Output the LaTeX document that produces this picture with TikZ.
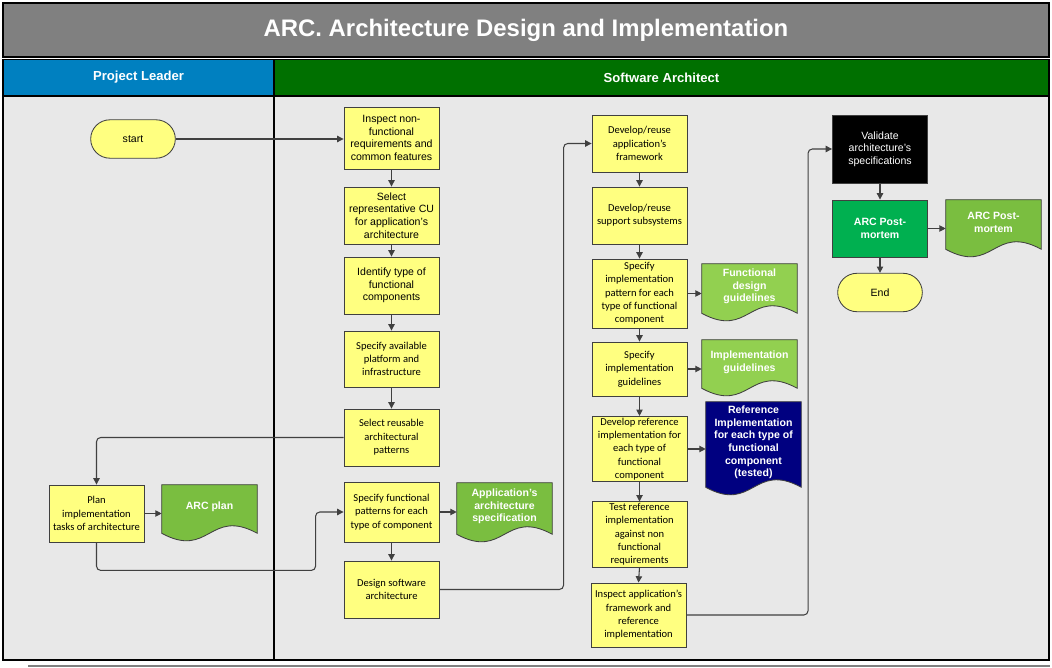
\documentclass[tikz,border=0pt]{standalone}
\usepackage{fontspec}
\setmainfont{Liberation Sans}
\newfontfamily\calibri{Carlito}
\usepackage{tikz}
\usetikzlibrary{
  positioning,
  arrows.meta,
  calc,
  shapes.misc
}
\definecolor{titlegray}{RGB}{128,128,128}
\definecolor{leaderblue}{RGB}{0,128,192}
\definecolor{archgreen}{RGB}{0,112,0}
\definecolor{lanegray}{RGB}{232,232,232}
\definecolor{taskyellow}{RGB}{255,255,128}
\definecolor{docgreen}{RGB}{122,190,64}
\definecolor{docgreenlight}{RGB}{146,208,80}
\definecolor{pmgreen}{RGB}{0,176,80}
\definecolor{refnavy}{RGB}{0,0,128}
\definecolor{lineclr}{RGB}{64,64,64}
\pgfdeclarelayer{lanes}
\pgfdeclarelayer{docs}
\pgfsetlayers{lanes,docs,main}
% document shape with wavy bottom, drawn behind the node text
\newcommand{\docshape}[2]{%
  \begin{pgfonlayer}{docs}
    \draw[draw=lineclr, fill=#2, line width=0.6pt]
      (#1.north west) -- (#1.north east) -- ($(#1.south east)+(0,4)$)
      .. controls ($(#1.south)+(0,-22)$) and ($(#1.south)+(0,30)$) ..
      ($(#1.south west)+(0,4)$) -- cycle;
  \end{pgfonlayer}}

\begin{document}
\begin{tikzpicture}[
  x=0.025cm, y=-0.025cm,
  >=Triangle,
  task/.style={draw=lineclr, fill=taskyellow, line width=0.6pt,
    minimum width=2.375cm, inner sep=1pt, align=center,
    font=\calibri\fontsize{7.5}{9.5}\selectfont},
  arial/.style={font=\fontsize{7.5}{9}\selectfont},
  terminal/.style={rounded rectangle, draw=lineclr, fill=taskyellow,
    line width=0.6pt, minimum width=2.35cm, minimum height=0.96cm,
    font=\fontsize{7.5}{9}\selectfont},
  doc/.style={text=white, align=center, minimum width=2.375cm,
    inner sep=1pt, font=\bfseries\fontsize{7.5}{9}\selectfont},
  header/.style={draw=black, line width=1.4pt, text=white,
    minimum height=0.9cm, inner sep=0pt,
    font=\bfseries\fontsize{9.3}{11}\selectfont},
  lane/.style={draw=black, fill=lanegray, line width=2pt},
  flow/.style={draw=lineclr, line width=0.75pt,
    -{Triangle[length=4.5pt,width=4.5pt]}},
  elbow/.style={flow, rounded corners=3pt}
]
  \useasboundingbox (0,0) rectangle (1052,668);
  \begin{pgfonlayer}{lanes}
    \fill[white] (0,0) rectangle (1052,668);
    \draw[lane] (3,96) rectangle (274,660);
    \draw[lane] (274,96) rectangle (1049,660);
    \draw[gray, line width=0.8pt] (28,666) -- (1050,666);
  \end{pgfonlayer}

  % title and swimlane headers
  \node[draw=black, fill=titlegray, line width=1.4pt, text=white,
    minimum width=26.15cm, minimum height=1.35cm, inner sep=0pt,
    font=\bfseries\fontsize{17}{20}\selectfont]
    (ttl) at (526,30) {ARC. Architecture Design and Implementation};
  \node[header, fill=leaderblue, minimum width=6.775cm]
    (hleader) at (138.5,77.5) {Project Leader};
  \node[header, fill=archgreen, minimum width=19.375cm]
    (harch) at (661.5,77.5) {Software Architect};

  % Project Leader
  \node[terminal] (start) at (133,139) {start};
  \node[task, minimum height=1.425cm] (plan) at (96.5,513.5)
    {Plan\\implementation\\tasks of architecture};
  \node[doc, minimum height=1.1cm] (arcplan) at (209.5,507) {ARC plan};
  \docshape{arcplan}{docgreen}

  % Software Architect, first column
  \node[task, arial, minimum height=1.55cm] (inspnf) at (391.5,138)
    {Inspect non-\\functional\\requirements and\\common features};
  \node[task, arial, minimum height=1.425cm] (selcu) at (391.5,215.5)
    {Select\\representative CU\\for application's\\architecture};
  \node[task, arial, minimum height=1.425cm] (idtype) at (391.5,285.5)
    {Identify type of\\functional\\components};
  \node[task, minimum height=1.4cm] (platform) at (391.5,359)
    {Specify available\\platform and\\infrastructure};
  \node[task, minimum height=1.425cm] (reuse) at (391.5,437.5)
    {Select reusable\\architectural\\patterns};
  \node[task, minimum height=1.5cm] (funcpat) at (391.5,512)
    {Specify functional\\patterns for each\\type of component};
  \node[task, minimum height=1.425cm] (design) at (391.5,589.5)
    {Design software\\architecture};
  \node[doc, minimum height=1.175cm] (appspec) at (504.5,506.5)
    {Application's\\architecture\\specification};
  \docshape{appspec}{docgreen}

  % second column
  \node[task, minimum height=1.425cm] (frame) at (639.5,143.5)
    {Develop/reuse\\application’s\\framework};
  \node[task, minimum height=1.425cm] (support) at (639.5,215.5)
    {Develop/reuse\\support subsystems};
  \node[task, minimum height=1.725cm] (implpat) at (639.5,293.5)
    {Specify\\implementation\\pattern for each\\type of functional\\component};
  \node[task, minimum height=1.35cm] (implgl) at (639.5,369)
    {Specify\\implementation\\guidelines};
  \node[task, minimum height=1.6cm] (devref) at (639.5,449)
    {Develop reference\\implementation for\\each type of\\functional\\component};
  \node[task, minimum height=1.625cm] (testref) at (639.5,534.5)
    {Test reference\\implementation\\against non\\functional\\requirements};
  \node[task, minimum height=1.6cm] (inspfw) at (638.5,615)
    {Inspect application’s\\framework and\\reference\\implementation};
  \node[doc, minimum height=1.125cm] (fdgl) at (749.5,286.5)
    {Functional\\design\\guidelines};
  \docshape{fdgl}{docgreenlight}
  \node[doc, minimum height=1.1cm] (igl) at (749.5,362)
    {Implementation\\guidelines};
  \docshape{igl}{docgreenlight}
  \node[doc, minimum height=2.025cm] (refimpl) at (753.5,442.5)
    {Reference\\Implementation\\for each type of\\functional\\component\\(tested)};
  \docshape{refimpl}{refnavy}

  % third column
  \node[task, arial, fill=black, text=white, minimum height=1.7cm]
    (validate) at (880,149) {Validate\\architecture's\\specifications};
  \node[task, arial, fill=pmgreen, text=white, font=\bfseries\fontsize{7.5}{9}\selectfont,
    minimum height=1.425cm] (postm) at (880,228.5) {ARC Post-\\mortem};
  \node[terminal] (end) at (880,292.5) {End};
  \node[doc, minimum height=1.125cm] (pmdoc) at (993.5,222.5)
    {ARC Post-\\mortem};
  \docshape{pmdoc}{docgreen}

  % connectors
  \draw[flow] (start.east) -- (start.east -| inspnf.west);
  \draw[flow] (inspnf.south) -- (selcu.north);
  \draw[flow] (selcu.south) -- (idtype.north);
  \draw[flow] (idtype.south) -- (platform.north);
  \draw[flow] (platform.south) -- (reuse.north);
  \draw[elbow] (reuse.west) -| (plan.north);
  \draw[flow] (plan.east) -- (plan.east -| arcplan.west);
  \draw[elbow] (plan.south) -- ++(0,28) -| ($(funcpat.west)+(-28,0)$)
    -- (funcpat.west);
  \draw[flow] (funcpat.east) -- (funcpat.east -| appspec.west);
  \draw[flow] (funcpat.south) -- (design.north);
  \draw[elbow] (design.east) -| ($(frame.west)+(-28,0)$) -- (frame.west);
  \draw[flow] (frame.south) -- (support.north);
  \draw[flow] (support.south) -- (implpat.north);
  \draw[flow] (implpat.east) -- (implpat.east -| fdgl.west);
  \draw[flow] (implpat.south) -- (implgl.north);
  \draw[flow] (implgl.east) -- (implgl.east -| igl.west);
  \draw[flow] (implgl.south) -- (devref.north);
  \draw[flow] (devref.east) -- (devref.east -| refimpl.west);
  \draw[flow] (devref.south) -- (testref.north);
  \draw[flow] (testref.south) -- (inspfw.north);
  \draw[elbow] (inspfw.east) -| ($(validate.west)+(-24,0)$)
    -- (validate.west);
  \draw[flow] (validate.south) -- (postm.north);
  \draw[flow] (postm.east) -- (postm.east -| pmdoc.west);
  \draw[flow] (postm.south) -- (end.north);
\end{tikzpicture}
\end{document}
